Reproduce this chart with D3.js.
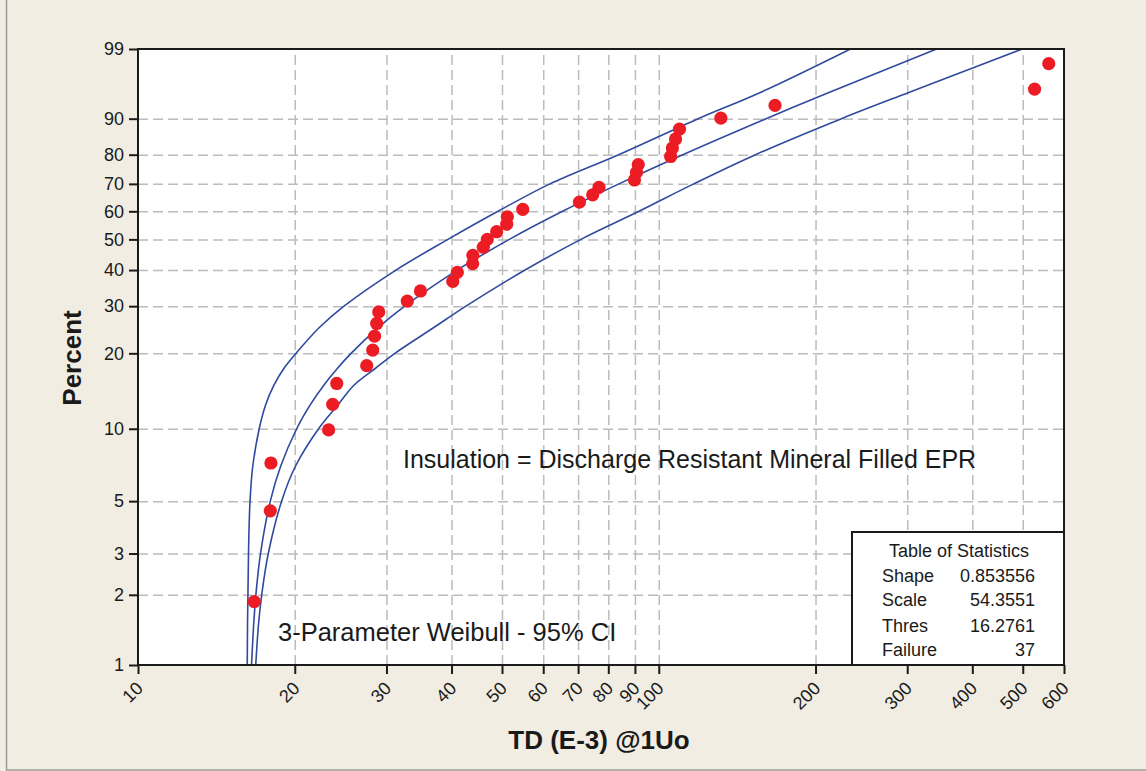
<!DOCTYPE html>
<html><head><meta charset="utf-8">
<script src="https://cdn.jsdelivr.net/npm/d3@7"></script>
<style>
body{margin:0;background:#F1EDE3;}
svg text{font-family:'Liberation Sans',Arial,sans-serif;fill:#1a1a1a;}
</style>
</head><body>
<svg id="chart" width="1146" height="771"></svg>
<script>
// ---- data ----
const tdValues = [16.72, 17.95, 18.0, 23.23, 23.65, 24.08, 27.49, 28.23, 28.46, 28.73, 28.99, 32.89, 34.87,
  40.22, 41.04, 43.92, 43.96, 46.03, 46.85, 48.84, 51.05, 51.19, 54.80, 70.42, 74.66, 76.77, 89.81, 90.61,
  91.33, 105.4, 106.2, 107.7, 109.6, 131.6, 167.2, 526.8, 560.9];
const percentValues = [1.87, 4.55, 7.22, 9.89, 12.57, 15.24, 17.91, 20.59, 23.26, 25.94, 28.61, 31.28, 33.96,
  36.63, 39.30, 41.98, 44.65, 47.33, 50.00, 52.67, 55.35, 58.02, 60.70, 63.37, 66.04, 68.72, 71.39, 74.06,
  76.74, 79.41, 82.09, 84.76, 87.43, 90.11, 92.78, 95.45, 98.13];

const curvePercent = [1, 1.5, 2, 3, 5, 7, 10, 12.5, 15, 17.5, 20, 25, 30, 40, 50, 60, 70, 80, 90, 95, 99];
const fitTD     = [16.52, 16.68, 16.84, 17.19, 17.95, 18.79, 20.17, 21.41, 22.74, 24.16, 25.65, 28.90, 32.52, 41.02, 51.66, 65.34, 83.84, 111.2, 160.7, 212.8, 341.6];
const ciUpperTD = [16.21, 16.23, 16.26, 16.30, 16.41, 16.61, 17.09, 17.58, 18.24, 19.07, 20.11, 22.27, 24.86, 31.29, 39.38, 49.12, 61.81, 83.75, 119.1, 157.1, 233.4];
const ciLowerTD = [16.83, 17.04, 17.28, 17.79, 18.87, 20.06, 22.22, 24.20, 25.98, 28.58, 31.14, 36.93, 42.64, 55.36, 70.89, 91.62, 116.7, 153.4, 224.3, 302.9, 499.0];

const xTicks = [10, 20, 30, 40, 50, 60, 70, 80, 90, 100, 200, 300, 400, 500, 600];
const yTicks = [1, 2, 3, 5, 10, 20, 30, 40, 50, 60, 70, 80, 90, 99];
const statLabels = ["Shape", "Scale", "Thres", "Failure"];
const statValues = ["0.853556", "54.3551", "16.2761", "37"];

// ---- layout ----
const L = 138, R = 1064, T = 49, B = 665;
const svg = d3.select("#chart");

svg.append("rect").attr("x", 6.5).attr("y", -10).attr("width", 1200).attr("height", 780)
  .attr("fill", "#F1EDE3").attr("stroke", "#9a9a9a").attr("stroke-width", 1.5);

const x = d3.scaleLog().domain([10, 600]).range([L, R]);
function weibullScale() {
  const lin = d3.scaleLinear();
  const tf = p => Math.log(-Math.log(1 - p / 100));
  let dom = [1, 99];
  function s(p) { return lin(tf(p)); }
  s.domain = function (d) { if (!arguments.length) return dom.slice(); dom = d.slice(); lin.domain(dom.map(tf)); return s; };
  s.range = function (r) { if (!arguments.length) return lin.range(); lin.range(r); return s; };
  s.copy = function () { return weibullScale().domain(dom).range(lin.range()); };
  return s;
}
const y = weibullScale().domain([1, 99]).range([B, T]);

svg.append("rect").attr("x", L).attr("y", T).attr("width", R - L).attr("height", B - T).attr("fill", "#ffffff");

const gridStyle = g => {
  g.select(".domain").remove();
  g.selectAll(".tick line").attr("stroke", "#bcbcbc").attr("stroke-width", 1.5).attr("stroke-dasharray", "10,5");
  g.selectAll(".tick text").remove();
};
svg.append("g").attr("transform", `translate(0,${B})`)
  .call(d3.axisBottom(x).tickValues(xTicks.filter(v => v !== 10 && v !== 600)).tickSize(-(B - T)).tickFormat(""))
  .call(gridStyle);
svg.append("g").attr("transform", `translate(${L},0)`)
  .call(d3.axisLeft(y).tickValues(yTicks.filter(v => v !== 1 && v !== 99)).tickSize(-(R - L)).tickFormat(""))
  .call(gridStyle);

svg.append("clipPath").attr("id", "plotclip").append("rect")
  .attr("x", L).attr("y", T).attr("width", R - L).attr("height", B - T);

const line = d3.line().x(d => x(d[0])).y(d => y(d[1])).curve(d3.curveCatmullRom.alpha(0.5));
const curves = [ciUpperTD, fitTD, ciLowerTD];
svg.append("g").attr("clip-path", "url(#plotclip)")
  .selectAll("path").data(curves).join("path")
  .attr("d", arr => line(arr.map((t, i) => [t, curvePercent[i]])))
  .attr("fill", "none").attr("stroke", "#2F4A9E").attr("stroke-width", 1.6);

svg.append("g").selectAll("circle").data(tdValues.map((t, i) => [t, percentValues[i]])).join("circle")
  .attr("cx", d => x(d[0])).attr("cy", d => y(d[1])).attr("r", 6.6).attr("fill", "#EC1C24");

svg.append("text").attr("x", 403).attr("y", 468).attr("font-size", 25)
  .text("Insulation = Discharge Resistant Mineral Filled EPR");
svg.append("text").attr("x", 278).attr("y", 641).attr("font-size", 25.5)
  .text("3-Parameter Weibull - 95% CI");

const tb = svg.append("g");
tb.append("rect").attr("x", 852).attr("y", 532).attr("width", R - 852).attr("height", B - 532)
  .attr("fill", "#ffffff").attr("stroke", "#1a1a1a").attr("stroke-width", 2);
tb.append("text").attr("x", 959).attr("y", 557).attr("text-anchor", "middle").attr("font-size", 18)
  .text("Table of Statistics");
const rowY = [582, 606, 632, 656];
statLabels.forEach((lab, i) => {
  tb.append("text").attr("x", 882).attr("y", rowY[i]).attr("font-size", 18).text(lab);
  tb.append("text").attr("x", 1035).attr("y", rowY[i]).attr("font-size", 18).attr("text-anchor", "end").text(statValues[i]);
});

svg.append("rect").attr("x", L).attr("y", T).attr("width", R - L).attr("height", B - T)
  .attr("fill", "none").attr("stroke", "#1a1a1a").attr("stroke-width", 2);

const axStyle = g => {
  g.select(".domain").remove();
  g.selectAll(".tick line").attr("stroke", "#1a1a1a").attr("stroke-width", 2);
  g.selectAll(".tick text").attr("font-size", 18).attr("fill", "#1a1a1a");
};
svg.append("g").attr("transform", `translate(${L},0)`)
  .call(d3.axisLeft(y).tickValues(yTicks).tickSize(9).tickPadding(5).tickFormat(d => d))
  .call(axStyle);
const xa = svg.append("g").attr("transform", `translate(0,${B})`)
  .call(d3.axisBottom(x).tickValues(xTicks).tickSize(9).tickFormat(d => d))
  .call(axStyle);
xa.selectAll(".tick text").attr("x", 0).attr("y", 0).attr("dy", "0.35em")
  .attr("text-anchor", "end").attr("transform", "translate(1,20) rotate(-45)");

svg.append("text").attr("x", 599).attr("y", 749).attr("text-anchor", "middle")
  .attr("font-size", 26).attr("font-weight", "bold").text("TD (E-3) @1Uo");
svg.append("text").attr("transform", "translate(81,358) rotate(-90)").attr("text-anchor", "middle")
  .attr("font-size", 26).attr("font-weight", "bold").text("Percent");
</script>
</body></html>
